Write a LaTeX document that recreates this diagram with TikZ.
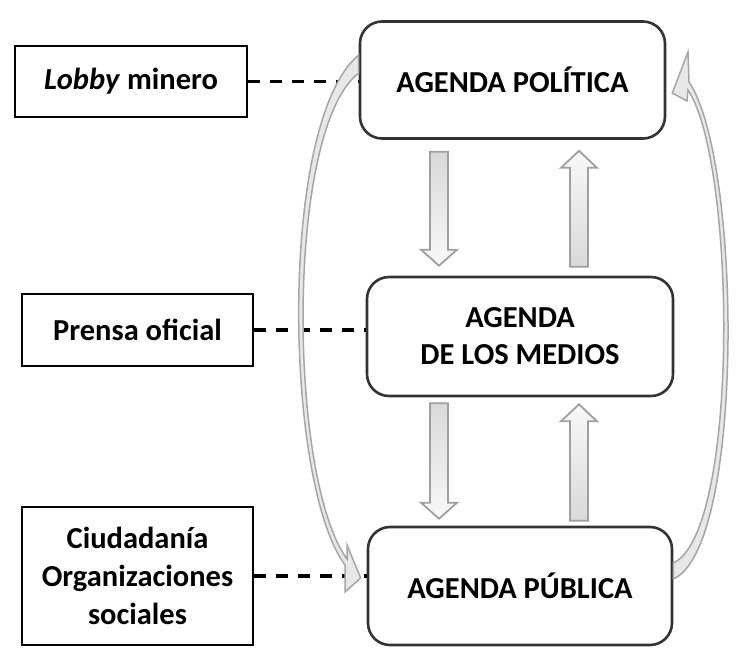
\documentclass[tikz,border=0pt]{standalone}
\usepackage{fontspec}
\setmainfont{Carlito}
\usetikzlibrary{calc}
\tikzset{
  agenda/.style={draw=black!80, line width=2.6pt, rounded corners=22pt, align=center,
    font=\fontsize{30.5}{37}\selectfont\bfseries, inner sep=0pt},
  actor/.style={draw=black, line width=2.8pt, align=center,
    font=\fontsize{30.5}{38}\selectfont\bfseries, inner sep=0pt},
  dashlink/.style={draw=black, line width=3.4pt, dash pattern=on 12pt off 10pt},
  fatarr/.style={draw=gray!75, line width=1.8pt},
  curvarr/.style={draw=gray!70, fill=gray!18, line width=1.5pt, line join=miter},
}
\newcommand\fatdown[2]{%
  \shade[fatarr, top color=gray!30, bottom color=gray!5] let \p1=(#1), \p2=(#2) in
    (\x1-9pt,\y1) -- (\x1+9pt,\y1) -- (\x1+9pt,\y2+16pt) -- (\x1+18pt,\y2+16pt) --
    (\x1,\y2) -- (\x1-18pt,\y2+16pt) -- (\x1-9pt,\y2+16pt) -- cycle;}
\newcommand\fatup[2]{%
  \shade[fatarr, top color=gray!5, bottom color=gray!30] let \p1=(#1), \p2=(#2) in
    (\x1-9pt,\y1) -- (\x1+9pt,\y1) -- (\x1+9pt,\y2-17pt) -- (\x1+18pt,\y2-17pt) --
    (\x1,\y2) -- (\x1-18pt,\y2-17pt) -- (\x1-9pt,\y2-17pt) -- cycle;}
\begin{document}
\begin{tikzpicture}[x=1pt,y=-1pt]
\useasboundingbox (0,0) rectangle (737,657);

% main agenda boxes
\node[agenda, minimum width=305pt, minimum height=117pt] (pol) at (512.5,80) {AGENDA POLÍTICA};
\node[agenda, minimum width=306pt, minimum height=119pt] (med) at (520,336.5) {AGENDA\\DE LOS MEDIOS};
\node[agenda, minimum width=304pt, minimum height=118pt] (pub) at (520,586) {AGENDA PÚBLICA};

% actor boxes
\node[actor, minimum width=232pt, minimum height=71pt] (lobby) at (131,81.5) {\textit{Lobby} minero};
\node[actor, minimum width=231pt, minimum height=72pt] (prensa) at (137.5,330) {Prensa oficial};
\node[actor, minimum width=231pt, minimum height=138pt] (ciud) at (137.5,576) {Ciudadanía\\Organizaciones\\sociales};

% dashed links
\draw[dashlink] (lobby.east) -- (lobby.east -| pol.west);
\draw[dashlink] (prensa.east) -- (prensa.east -| med.west);
\draw[dashlink] (ciud.east) -- (ciud.east -| pub.west);

% straight block arrows
\coordinate (xl) at (439,0);
\coordinate (xr) at (579,0);
\coordinate (d1a) at ([yshift=-12pt]pol.south -| xl);
\coordinate (d1b) at ([yshift=10pt]med.north -| xl);
\coordinate (u1a) at ([yshift=9pt]med.north -| xr);
\coordinate (u1b) at ([yshift=-11pt]pol.south -| xr);
\coordinate (d2a) at ([yshift=-6pt]med.south -| xl);
\coordinate (d2b) at ([yshift=7pt]pub.north -| xl);
\coordinate (u2a) at ([yshift=5pt]pub.north -| xr);
\coordinate (u2b) at ([yshift=-7pt]med.south -| xr);
\fatdown{d1a}{d1b}
\fatup{u1a}{u1b}
\fatdown{d2a}{d2b}
\fatup{u2a}{u2b}

% curved block arrows
\coordinate (L1) at ([yshift=25pt]pol.west);
\coordinate (L2) at ([yshift=7pt]pol.west);
\coordinate (Ltip) at ([xshift=-6pt,yshift=8pt]pub.west);
\draw[curvarr] (L1) .. controls (278,122) and (284,482) .. (345,565)
  -- (345,592) -- (Ltip) -- (347,545) -- (347,559)
  .. controls (288,478) and (285,130) .. (L2) -- cycle;

\coordinate (R1) at ([yshift=7pt]pub.east);
\coordinate (R2) at ([yshift=23pt]pub.east);
\coordinate (Rtip) at ([xshift=6pt,yshift=-13pt]pol.east);
\draw[curvarr] (R1) .. controls (745,548) and (742,160) .. (689,82)
  -- (688,52) -- (Rtip) -- (687,101) -- (688,90)
  .. controls (736,162) and (740,532) .. (R2) -- cycle;
\end{tikzpicture}
\end{document}
